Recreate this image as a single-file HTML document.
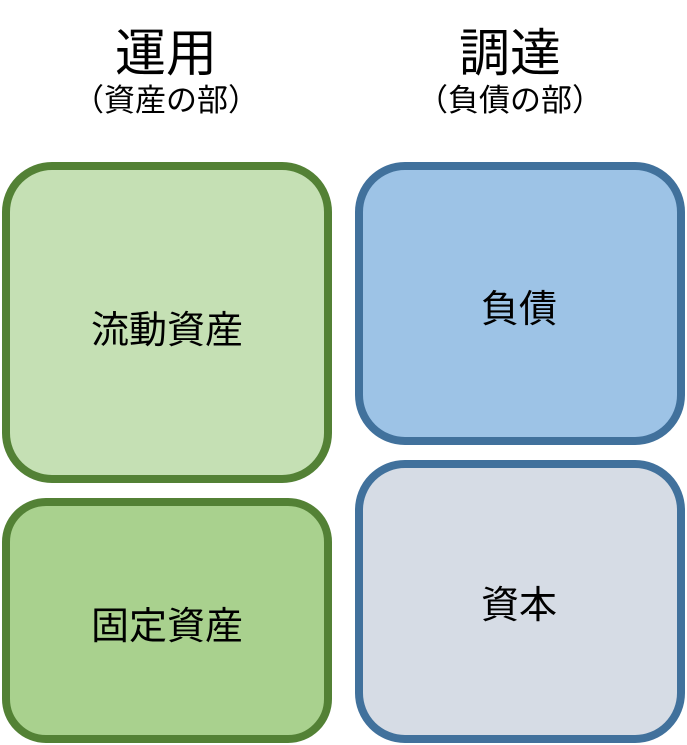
<!DOCTYPE html>
<html><head><meta charset="utf-8"><style>
html,body{margin:0;padding:0;background:#fff;}
svg{display:block;}
text{font-family:"Liberation Sans","Noto Sans CJK JP",sans-serif;fill:#000;}
</style></head><body>
<svg width="687" height="745" viewBox="0 0 687 745" xmlns="http://www.w3.org/2000/svg">
<text x="166" y="71" font-size="51" text-anchor="middle">運用</text>
<text x="166" y="111" font-size="31" text-anchor="middle">（資産の部）</text>
<text x="510" y="71" font-size="51" text-anchor="middle">調達</text>
<text x="510" y="111" font-size="31" text-anchor="middle">（負債の部）</text>

<rect x="6" y="166" width="322" height="313" rx="46" fill="#c5e0b4" stroke="#538135" stroke-width="8"/>
<rect x="6" y="502" width="322" height="237" rx="40" fill="#a9d18e" stroke="#538135" stroke-width="8"/>
<rect x="359" y="166" width="322" height="275" rx="46" fill="#9dc3e6" stroke="#41719c" stroke-width="8"/>
<rect x="359" y="464" width="322" height="275" rx="46" fill="#d6dce5" stroke="#41719c" stroke-width="8"/>

<text x="167" y="343" font-size="38" text-anchor="middle">流動資産</text>
<text x="167" y="639" font-size="38" text-anchor="middle">固定資産</text>
<text x="519" y="322" font-size="38" text-anchor="middle">負債</text>
<text x="519" y="618" font-size="38" text-anchor="middle">資本</text>
</svg>
</body></html>
